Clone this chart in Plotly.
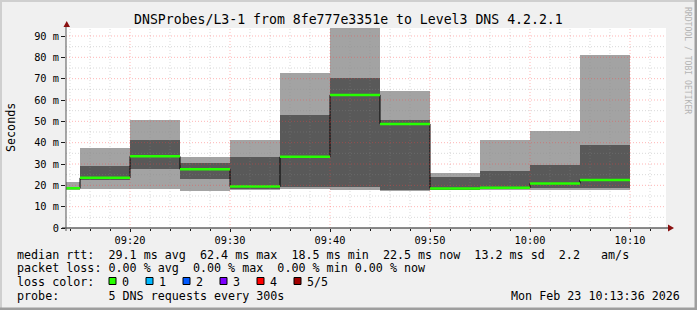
import plotly.graph_objects as go
import pandas as pd

# ---------------- DATA ----------------
day = "2026-02-23"
range_start = "09:13:36"
range_end = "10:13:36"
bin_end = ["09:15", "09:20", "09:25", "09:30", "09:35", "09:40",
           "09:45", "09:50", "09:55", "10:00", "10:05", "10:10"]
# sorted 5 pings per 5-minute step (ms)
ping_1 = [18.0, 18.1, 18.1, 17.4, 17.6, 18.3, 17.8, 17.5, 17.8, 17.9, 17.9, 17.9]
ping_2 = [18.3, 22.6, 27.6, 23.0, 18.3, 19.4, 19.4, 17.8, 18.0, 18.2, 18.6, 18.6]
ping_med = [18.6, 23.5, 33.6, 27.5, 19.4, 33.4, 62.4, 48.8, 18.5, 18.9, 20.9, 22.5]
ping_4 = [19.0, 29.1, 41.2, 30.5, 33.4, 53.0, 70.3, 50.6, 23.9, 26.7, 29.6, 38.9]
ping_5 = [21.6, 37.5, 50.6, 33.3, 41.2, 72.7, 93.8, 64.3, 25.8, 41.2, 45.5, 81.1]
y_ticks = [0, 10, 20, 30, 40, 50, 60, 70, 80, 90]
y_tick_text = ["0", "10 m", "20 m", "30 m", "40 m", "50 m", "60 m", "70 m", "80 m", "90 m"]
y_top = 93.75

title_text = "DNSProbes/L3-1 from 8fe777e3351e to Level3 DNS 4.2.2.1"
unit_text = "Seconds"
watermark = "RRDTOOL / TOBI OETIKER"
legend_line1 = "median rtt:  29.1 ms avg  62.4 ms max  18.5 ms min  22.5 ms now  13.2 ms sd  2.2   am/s"
legend_line2 = "packet loss: 0.00 % avg  0.00 % max  0.00 % min 0.00 % now"
legend_line3 = "loss color:"
loss_labels = ["0", "1", "2", "3", "4", "5/5"]
legend_line4 = "probe:       5 DNS requests every 300s"
stamp = "Mon Feb 23 10:13:36 2026"

# ---------------- STYLE ----------------
W, H = 697, 310
L, R, T, B = 66, 31, 28, 82
PW, PH = W - L - R, H - T - B
MONO = "DejaVu Sans Mono"
loss_colors = ["#26ff00", "#00b8ff", "#0059ff", "#7e00ff", "#ff0000", "#a10000"]
LIGHT = "#a3a3a3"
DARK = "#595959"
GREEN = "#26ff00"


def px(x):
    return (x - L) / PW


def py(y):
    return (H - B - y) / PH


step = pd.Timedelta(minutes=5)
ends = pd.to_datetime([f"{day} {t}" for t in bin_end])
starts = ends - step
centers = starts + step / 2
x0 = pd.Timestamp(f"{day} {range_start}")
x1 = pd.Timestamp(f"{day} {range_end}")

fig = go.Figure()

# outer smoke (min..max)
fig.add_trace(go.Bar(x=centers, y=[b - a for a, b in zip(ping_1, ping_5)], base=ping_1,
                     width=step.total_seconds() * 1000, marker=dict(color=LIGHT, line=dict(width=0)),
                     hoverinfo="skip"))
# inner smoke
fig.add_trace(go.Bar(x=centers, y=[b - a for a, b in zip(ping_2, ping_4)], base=ping_2,
                     width=step.total_seconds() * 1000, marker=dict(color=DARK, line=dict(width=0)),
                     hoverinfo="skip"))
# median step line (black connectors)
fig.add_trace(go.Scatter(x=list(starts) + [ends[-1]], y=ping_med + [ping_med[-1]],
                         mode="lines", line=dict(color="#000000", width=1, shape="hv"),
                         hoverinfo="skip"))
# median green segments
gx, gy = [], []
for s, e, m in zip(starts, ends, ping_med):
    gx += [s, e, None]
    gy += [m, m, None]
fig.add_trace(go.Scatter(x=gx, y=gy, mode="lines", line=dict(color=GREEN, width=2.5),
                         hoverinfo="skip"))

shapes = []
# grid (drawn above the smoke like rrdtool)
t = pd.Timestamp(f"{day} 09:14")
while t < x1:
    major = (t.minute % 10 == 0)
    shapes.append(dict(type="line", xref="x", yref="paper", x0=t, x1=t, y0=0, y1=1,
                       layer="above",
                       line=dict(color="rgba(255,60,60,0.38)" if major else "rgba(140,140,140,0.33)",
                                 width=1, dash="1px,2px")))
    t += pd.Timedelta(minutes=2)
for v in range(5, 91, 5):
    major = (v % 10 == 0)
    shapes.append(dict(type="line", xref="paper", yref="y", x0=0, x1=1, y0=v, y1=v,
                       layer="above",
                       line=dict(color="rgba(255,60,60,0.38)" if major else "rgba(140,140,140,0.33)",
                                 width=1, dash="1px,2px")))
# axes
AX = "#1a1a1a"
shapes.append(dict(type="line", xref="paper", yref="paper", x0=px(62), x1=px(670), y0=0, y1=0,
                   line=dict(color=AX, width=1.2), layer="above"))
shapes.append(dict(type="line", xref="paper", yref="paper", x0=0, x1=0, y0=py(231), y1=py(25),
                   line=dict(color="#555555", width=1), layer="above"))
ARROW = "#8a1010"
shapes.append(dict(type="path", xref="paper", yref="paper", layer="above",
                   path=f"M {px(63.5)},{py(27)} L {px(70)},{py(27)} L {px(66.7)},{py(21)} Z",
                   fillcolor=ARROW, line=dict(width=0)))
shapes.append(dict(type="path", xref="paper", yref="paper", layer="above",
                   path=f"M {px(668)},{py(224.5)} L {px(668)},{py(231.5)} L {px(674)},{py(228)} Z",
                   fillcolor=ARROW, line=dict(width=0)))
# frame
shapes.append(dict(type="rect", xref="paper", yref="paper", x0=px(0), x1=px(W), y0=py(0), y1=py(2),
                   fillcolor="#cfcfcf", line=dict(width=0), layer="above"))
shapes.append(dict(type="rect", xref="paper", yref="paper", x0=px(0), x1=px(2), y0=py(0), y1=py(H),
                   fillcolor="#cfcfcf", line=dict(width=0), layer="above"))
shapes.append(dict(type="rect", xref="paper", yref="paper", x0=px(0), x1=px(W), y0=py(H - 2.5), y1=py(H),
                   fillcolor="#9e9e9e", line=dict(width=0), layer="above"))
shapes.append(dict(type="rect", xref="paper", yref="paper", x0=px(W - 2.5), x1=px(W), y0=py(0), y1=py(H),
                   fillcolor="#9e9e9e", line=dict(width=0), layer="above"))

annotations = []
LEG = 11.7


def text(x, y, s, size=LEG, anchor="left", color="#000000", angle=0):
    annotations.append(dict(x=px(x), y=py(y), xref="paper", yref="paper", text=s,
                            showarrow=False, xanchor=anchor, yanchor="middle",
                            textangle=angle, borderpad=0,
                            font=dict(family=MONO, size=size, color=color)))


text(348, 19, title_text, size=13.2, anchor="center")
text(11, 128, unit_text, anchor="center", angle=-90)
text(688, 60, watermark, size=8.1, anchor="center", color="#b4b4b4", angle=90)
text(15.5, 254.5, legend_line1)
text(15.5, 268, legend_line2)
text(15.5, 282, legend_line3)
text(15.5, 296, legend_line4)
text(681, 296, stamp, anchor="right")

box_x = 109
for i, (lab, col) in enumerate(zip(loss_labels, loss_colors)):
    bx = box_x + 37 * i
    shapes.append(dict(type="rect", xref="paper", yref="paper", x0=px(bx), x1=px(bx + 7),
                       y0=py(284.5), y1=py(277.5), fillcolor=col,
                       line=dict(color="#000000", width=1), layer="above"))
    text(bx + 11.5, 282, lab)

fig.update_layout(
    width=W, height=H,
    margin=dict(l=L, r=R, t=T, b=B, pad=0),
    paper_bgcolor="#f0f0f0", plot_bgcolor="#ffffff",
    barmode="overlay", bargap=0, showlegend=False,
    shapes=shapes, annotations=annotations,
    xaxis=dict(type="date", range=[x0, x1], showgrid=False, zeroline=False, showline=False,
               tick0=f"{day} 09:00", dtick=600000, tickformat="%H:%M",
               ticks="outside", ticklen=3, tickcolor=AX,
               tickfont=dict(family=MONO, size=10.3, color="#000000"),
               minor=dict(ticks="outside", ticklen=2, dtick=120000, tickcolor=AX, showgrid=False)),
    yaxis=dict(range=[0, y_top], showgrid=False, zeroline=False, showline=False,
               tickvals=y_ticks, ticktext=y_tick_text,
               ticks="outside", ticklen=4, tickcolor=AX,
               tickfont=dict(family=MONO, size=10.3, color="#000000")),
)

fig.write_html("out.html")
